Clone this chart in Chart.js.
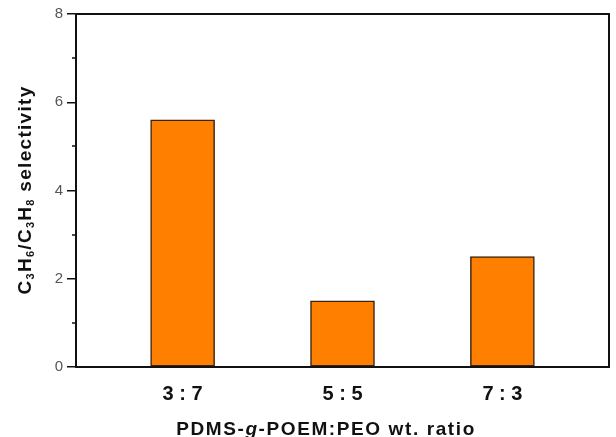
<!DOCTYPE html>
<html>
<head>
<meta charset="utf-8">
<script src="https://cdn.jsdelivr.net/npm/chart.js@4.4.1/dist/chart.umd.min.js"></script>
<style>
  html, body { margin: 0; padding: 0; background: #fff; }
  #wrap { width: 616px; height: 437px; position: relative; }
</style>
</head>
<body>
<div id="wrap"><canvas id="c" width="616" height="437"></canvas></div>
<script>
// Daten
const ratioLabels = ['3 : 7', '5 : 5', '7 : 3'];
const ratioPos = [1, 2, 3];
const selectivity = [5.6, 1.5, 2.5];
const yTicks = [0, 2, 4, 6, 8];
const yMinor = [1, 3, 5, 7];

const barData = ratioPos.map((p, i) => ({ x: p, y: selectivity[i] }));
const FONT = '"Liberation Sans", Arial, sans-serif';

// Achsentitel selbst zeichnen (Tiefstellung, kursives g), Rahmen und kleine Ticks
const titlePlugin = {
    id: 'titles',
    afterDraw(chart) {
        const ctx = chart.ctx;
        const area = chart.chartArea;
        const yScale = chart.scales.y;
        ctx.save();
        ctx.fillStyle = '#111';
        ctx.textBaseline = 'alphabetic';

        // x-Titel
        const parts = [
            { t: 'PDMS-', f: 'bold 19px ' + FONT },
            { t: 'g', f: 'italic bold 19px ' + FONT },
            { t: '-POEM:PEO wt. ratio', f: 'bold 19px ' + FONT }
        ];
        ctx.letterSpacing = '1.6px';
        let total = 0;
        parts.forEach(p => { ctx.font = p.f; p.w = ctx.measureText(p.t).width; total += p.w; });
        let x = 326 - total / 2;
        parts.forEach(p => { ctx.font = p.f; ctx.fillText(p.t, x, 435); x += p.w; });

        // y-Titel, gedreht
        const yParts = [
            ['C', 0], ['3', 1], ['H', 0], ['6', 1], ['/C', 0], ['3', 1], ['H', 0], ['8', 1], [' selectivity', 0]
        ];
        ctx.letterSpacing = '1.3px';
        const big = 'bold 19px ' + FONT;
        const small = 'bold 11px ' + FONT;
        let tw = 0;
        yParts.forEach(p => { ctx.font = p[1] ? small : big; tw += ctx.measureText(p[0]).width; });
        ctx.translate(31, 190);
        ctx.rotate(-Math.PI / 2);
        let px = -tw / 2;
        yParts.forEach(p => {
            ctx.font = p[1] ? small : big;
            ctx.fillText(p[0], px, p[1] ? 3 : 0);
            px += ctx.measureText(p[0]).width;
        });
        ctx.restore();

        // Rahmen und Neben-Ticks
        ctx.save();
        ctx.strokeStyle = '#111';
        ctx.lineWidth = 2;
        ctx.strokeRect(area.left, area.top, area.right - area.left, area.bottom - area.top);
        ctx.lineWidth = 1.5;
        ctx.beginPath();
        yMinor.forEach(v => {
            const py = Math.round(yScale.getPixelForValue(v));
            ctx.moveTo(area.left - 4, py);
            ctx.lineTo(area.left, py);
        });
        ctx.stroke();
        ctx.restore();
    }
};

new Chart(document.getElementById('c'), {
    type: 'bar',
    data: {
        datasets: [{
            data: barData,
            backgroundColor: '#ff8000',
            borderColor: '#3a2410',
            borderWidth: 1.5,
            borderSkipped: false,
            barThickness: 64
        }]
    },
    plugins: [titlePlugin],
    options: {
        responsive: false,
        animation: false,
        devicePixelRatio: 1,
        layout: { padding: { top: 14, right: 7, left: 0, bottom: 0 } },
        plugins: { legend: { display: false }, tooltip: { enabled: false } },
        scales: {
            x: {
                type: 'linear',
                offset: false,
                min: 1 / 3,
                max: 11 / 3,
                afterBuildTicks: (axis) => { axis.ticks = ratioPos.map(v => ({ value: v })); },
                afterFit: (axis) => { axis.height = 70; },
                grid: { display: false },
                border: { display: false },
                ticks: {
                    callback: (v) => ratioLabels[ratioPos.indexOf(v)] || '',
                    color: '#111',
                    padding: 7,
                    font: { family: FONT, size: 20, weight: 'bold' }
                }
            },
            y: {
                min: 0,
                max: 8,
                afterBuildTicks: (axis) => { axis.ticks = yTicks.map(v => ({ value: v })); },
                afterFit: (axis) => { axis.width = 76; },
                grid: { drawOnChartArea: false, tickLength: 9, color: '#111', lineWidth: 1.5 },
                border: { display: false },
                ticks: {
                    color: '#555',
                    padding: 4,
                    font: { family: FONT, size: 15 }
                }
            }
        }
    }
});
</script>
</body>
</html>
